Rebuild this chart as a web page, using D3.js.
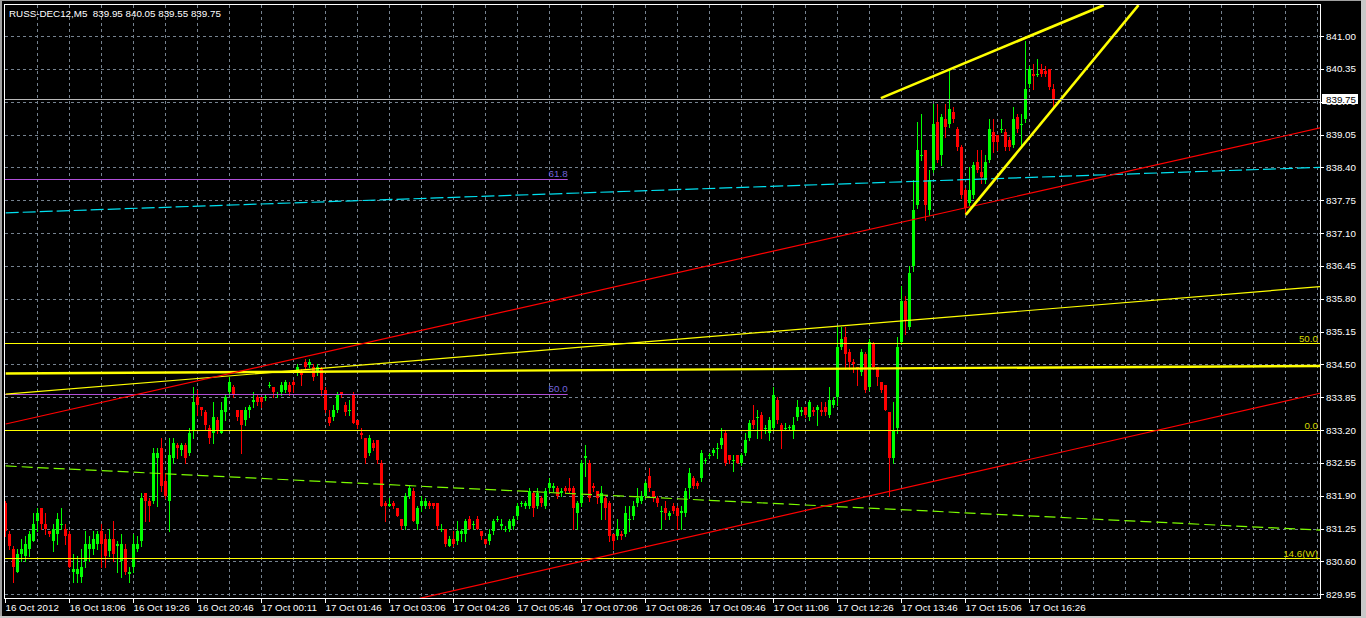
<!DOCTYPE html>
<html>
<head>
<meta charset="utf-8">
<script src="https://cdn.jsdelivr.net/npm/d3@7/dist/d3.min.js"></script>
<style>
  html, body { margin: 0; padding: 0; background: #000; overflow: hidden; }
  svg { display: block; }
  text { font-family: "Liberation Sans", Arial, sans-serif; font-size: 9.8px; }
</style>
</head>
<body>
<div id="chart"></div>
<script>
// M5 candles, [open, high, low, close], oldest first
var candles = [
  [831.75, 831.80, 831.10, 831.20], [831.15, 831.20, 830.85, 830.90], [830.85, 830.90, 830.20, 830.50], [830.40, 830.85, 830.40, 830.75],
  [830.75, 831.05, 830.60, 830.85], [830.70, 831.10, 830.60, 830.95], [830.85, 831.20, 830.70, 831.15], [831.00, 831.55, 831.00, 831.35],
  [831.40, 831.65, 831.20, 831.55], [831.65, 831.65, 831.25, 831.35], [831.35, 831.55, 831.15, 831.25], [831.20, 831.20, 831.10, 831.15],
  [831.00, 831.35, 830.80, 831.25], [831.15, 831.55, 830.95, 831.45], [831.33, 831.65, 831.25, 831.35], [831.25, 831.35, 830.95, 831.10],
  [831.15, 831.20, 830.50, 830.50], [830.40, 830.75, 830.20, 830.45], [830.35, 830.70, 830.20, 830.45], [830.30, 830.85, 830.20, 830.50],
  [830.60, 831.20, 830.50, 830.95], [830.85, 831.10, 830.60, 830.95], [830.85, 831.20, 830.75, 831.05], [830.95, 831.20, 830.85, 831.15],
  [831.20, 831.35, 830.50, 830.95], [831.05, 831.15, 830.50, 830.70], [830.80, 831.25, 830.70, 831.05], [831.05, 831.40, 830.60, 830.75],
  [830.90, 831.00, 830.40, 830.95], [830.60, 831.15, 830.30, 830.95], [830.85, 830.95, 830.35, 830.40], [830.35, 830.50, 830.20, 830.40],
  [830.50, 831.15, 830.40, 830.95], [830.85, 831.10, 830.80, 830.95], [831.00, 831.95, 830.90, 831.85], [831.95, 831.95, 831.40, 831.80],
  [831.80, 831.85, 831.40, 831.70], [831.80, 832.85, 831.75, 832.75], [832.65, 832.85, 831.70, 832.75], [832.85, 833.05, 832.00, 832.10],
  [832.20, 832.35, 831.85, 831.90], [831.80, 833.05, 831.20, 832.70], [832.65, 833.05, 832.55, 832.95], [832.90, 832.95, 832.65, 832.85],
  [832.80, 832.95, 832.70, 832.90], [832.90, 832.95, 832.55, 832.65], [832.75, 833.25, 832.70, 833.15], [833.20, 834.05, 833.05, 833.75],
  [833.85, 834.00, 833.50, 833.70], [833.65, 833.65, 833.50, 833.60], [833.55, 833.60, 833.20, 833.30], [833.25, 833.30, 832.95, 833.05],
  [833.15, 833.75, 832.95, 833.45], [833.40, 833.45, 833.15, 833.20], [833.15, 833.75, 833.15, 833.60], [833.55, 833.90, 833.40, 833.85],
  [833.95, 834.25, 833.90, 834.15], [834.05, 834.10, 833.85, 833.90], [833.60, 833.60, 833.40, 833.45], [833.60, 833.60, 832.75, 833.30],
  [833.40, 833.65, 833.30, 833.60], [833.60, 833.70, 833.45, 833.65], [833.75, 833.95, 833.65, 833.80], [833.85, 833.90, 833.70, 833.75],
  [833.85, 833.85, 833.65, 833.75], [833.83, 833.90, 833.80, 833.85], [834.08, 834.15, 834.05, 834.10], [834.05, 834.05, 833.85, 833.95],
  [833.90, 833.95, 833.85, 833.92], [833.95, 834.15, 833.90, 834.10], [834.00, 834.20, 833.95, 834.15], [834.10, 834.15, 833.90, 833.95],
  [834.15, 834.20, 833.95, 834.10], [834.35, 834.50, 834.30, 834.45], [834.35, 834.40, 834.10, 834.30], [834.55, 834.60, 834.40, 834.45],
  [834.48, 834.60, 834.45, 834.55], [834.45, 834.50, 834.20, 834.25], [834.35, 834.50, 834.30, 834.45], [834.40, 834.45, 833.90, 834.00],
  [834.00, 834.05, 833.55, 833.60], [833.45, 833.60, 833.30, 833.35], [833.45, 833.70, 833.40, 833.60], [833.60, 833.95, 833.55, 833.90],
  [833.95, 833.95, 833.85, 833.90], [833.70, 833.75, 833.50, 833.55], [833.58, 833.80, 833.50, 833.60], [833.90, 833.95, 833.35, 833.35],
  [833.40, 833.40, 833.25, 833.30], [833.15, 833.25, 833.05, 833.10], [833.05, 833.05, 832.55, 832.65], [832.75, 833.10, 832.70, 833.05],
  [832.95, 833.00, 832.80, 832.85], [833.00, 833.00, 832.55, 832.60], [832.55, 832.60, 831.70, 831.70], [831.75, 831.80, 831.40, 831.70],
  [831.70, 831.85, 831.70, 831.73], [831.75, 831.80, 831.65, 831.70], [831.65, 831.65, 831.50, 831.50], [831.45, 831.45, 831.25, 831.30],
  [831.30, 831.95, 831.25, 831.90], [831.90, 832.10, 831.85, 832.05], [832.00, 832.05, 831.40, 831.40], [831.35, 831.70, 831.25, 831.65],
  [831.70, 831.90, 831.60, 831.80], [831.70, 831.85, 831.65, 831.80], [831.75, 831.80, 831.65, 831.70], [831.75, 831.75, 831.65, 831.70],
  [831.75, 831.75, 831.25, 831.30], [831.23, 831.35, 831.20, 831.25], [831.25, 831.25, 830.90, 830.95], [830.90, 831.10, 830.90, 831.05],
  [831.05, 831.20, 830.90, 830.95], [831.00, 831.40, 830.95, 831.20], [831.15, 831.25, 831.00, 831.20], [831.15, 831.45, 831.00, 831.40],
  [831.45, 831.50, 831.25, 831.25], [831.33, 831.40, 831.25, 831.35], [831.45, 831.50, 831.25, 831.25], [831.20, 831.20, 831.05, 831.10],
  [831.05, 831.05, 830.95, 830.95], [831.00, 831.25, 830.95, 831.15], [831.20, 831.45, 831.15, 831.40], [831.43, 831.50, 831.40, 831.45],
  [831.30, 831.45, 831.25, 831.35], [831.23, 831.30, 831.20, 831.25], [831.25, 831.45, 831.20, 831.40], [831.30, 831.50, 831.25, 831.45],
  [831.50, 831.75, 831.45, 831.70], [831.73, 831.80, 831.70, 831.75], [831.70, 831.80, 831.65, 831.75], [831.70, 832.05, 831.65, 832.00],
  [831.95, 832.00, 831.50, 831.65], [831.70, 832.05, 831.65, 831.95], [831.85, 831.90, 831.70, 831.75], [831.70, 832.05, 831.65, 832.00],
  [832.05, 832.25, 832.00, 832.15], [832.05, 832.15, 832.00, 832.10], [832.05, 832.10, 831.85, 831.90], [831.95, 832.05, 831.90, 832.00],
  [832.05, 832.10, 831.95, 832.00], [832.05, 832.25, 831.95, 832.00], [832.05, 832.10, 831.25, 831.65], [831.55, 831.80, 831.25, 831.75],
  [831.75, 832.60, 831.70, 832.55], [832.65, 832.90, 832.30, 832.68], [832.55, 832.60, 831.80, 831.85], [832.10, 832.15, 832.00, 832.05],
  [832.00, 832.00, 831.75, 831.85], [831.75, 832.10, 831.45, 831.95], [831.85, 831.90, 831.45, 831.65], [831.75, 831.80, 831.00, 831.10],
  [831.15, 831.15, 830.85, 831.00], [831.10, 831.45, 831.05, 831.25], [831.15, 831.20, 831.05, 831.10], [831.15, 831.70, 831.10, 831.55],
  [831.43, 831.70, 831.20, 831.45], [831.50, 831.80, 831.45, 831.70], [831.75, 832.05, 831.70, 831.85], [831.80, 832.00, 831.75, 831.90],
  [831.90, 832.20, 831.85, 832.15], [832.30, 832.45, 832.00, 832.05], [832.00, 832.00, 831.80, 831.85], [831.85, 831.90, 831.70, 831.75],
  [831.58, 831.70, 831.25, 831.60], [831.65, 831.80, 831.45, 831.55], [831.50, 831.60, 831.45, 831.55], [831.70, 831.75, 831.55, 831.60],
  [831.65, 831.70, 831.25, 831.50], [831.55, 831.70, 831.25, 831.60], [831.55, 832.05, 831.50, 832.00], [832.05, 832.45, 831.85, 832.35],
  [832.25, 832.30, 832.05, 832.10], [832.15, 832.20, 832.05, 832.10], [832.25, 832.80, 832.20, 832.75], [832.58, 832.65, 832.55, 832.60],
  [832.68, 832.75, 832.65, 832.70], [832.75, 832.85, 832.70, 832.80], [832.83, 832.95, 832.65, 832.85], [832.90, 833.25, 832.85, 833.05],
  [833.15, 833.20, 832.50, 832.55], [832.70, 832.70, 832.55, 832.60], [832.58, 832.70, 832.40, 832.60], [832.70, 832.70, 832.55, 832.55],
  [832.55, 832.75, 832.50, 832.70], [832.75, 833.15, 832.70, 833.00], [833.05, 833.40, 833.00, 833.35], [833.40, 833.70, 833.25, 833.30],
  [833.43, 833.60, 833.05, 833.45], [833.50, 833.55, 833.05, 833.20], [833.23, 833.30, 833.15, 833.25], [833.15, 833.45, 833.00, 833.40],
  [833.25, 834.05, 833.20, 833.90], [833.80, 833.85, 833.35, 833.40], [833.30, 833.35, 832.85, 833.20], [833.23, 833.35, 833.20, 833.25],
  [833.25, 833.30, 833.20, 833.27], [833.20, 833.45, 833.05, 833.30], [833.45, 833.80, 833.40, 833.65], [833.55, 833.65, 833.50, 833.60],
  [833.65, 833.65, 833.45, 833.50], [833.45, 833.80, 833.40, 833.75], [833.60, 833.65, 833.50, 833.55], [833.60, 833.70, 833.30, 833.65],
  [833.60, 833.75, 833.50, 833.55], [833.65, 833.75, 833.50, 833.55], [833.50, 834.05, 833.45, 833.80], [833.70, 833.85, 833.65, 833.80],
  [833.85, 835.25, 833.70, 834.85], [834.85, 835.25, 834.80, 835.00], [835.05, 835.25, 834.40, 834.70], [834.75, 834.80, 834.40, 834.55],
  [834.55, 834.60, 834.35, 834.50], [834.45, 834.45, 834.10, 834.40], [834.35, 834.80, 834.30, 834.75], [834.70, 834.75, 833.95, 834.00],
  [834.05, 835.00, 834.00, 834.95], [834.90, 834.95, 834.40, 834.45], [834.45, 834.45, 834.10, 834.25], [834.15, 834.15, 833.95, 834.00],
  [834.10, 834.10, 833.60, 833.60], [833.55, 833.55, 831.90, 832.65], [832.65, 833.75, 832.55, 833.20], [833.25, 835.05, 833.15, 834.85],
  [834.95, 836.05, 834.90, 835.75], [835.75, 835.85, 835.10, 835.35], [835.25, 836.45, 835.20, 836.30], [836.45, 838.15, 836.35, 837.55],
  [837.65, 839.30, 837.60, 838.75], [838.63, 839.45, 838.55, 838.65], [838.75, 838.75, 837.35, 837.65], [837.55, 838.35, 837.45, 838.15],
  [838.35, 839.65, 838.30, 839.25], [839.30, 839.65, 838.50, 838.55], [838.65, 839.45, 838.45, 839.40], [839.35, 839.65, 839.00, 839.20],
  [839.25, 840.35, 839.20, 839.55], [839.50, 839.60, 839.30, 839.35], [839.15, 839.20, 838.75, 838.80], [838.80, 838.85, 837.80, 837.85],
  [837.95, 838.00, 837.50, 837.60], [837.70, 838.40, 837.65, 837.95], [837.85, 838.50, 837.80, 838.45], [838.50, 838.75, 838.30, 838.35],
  [838.30, 838.75, 838.10, 838.20], [838.15, 838.65, 838.10, 838.50], [838.55, 839.35, 838.50, 839.15], [839.10, 839.35, 838.70, 838.90],
  [839.05, 839.05, 838.75, 838.90], [839.13, 839.35, 839.10, 839.15], [839.10, 839.15, 838.75, 838.80], [838.95, 839.00, 838.75, 838.80],
  [838.85, 839.60, 838.80, 839.35], [839.40, 839.45, 839.10, 839.15], [839.23, 839.45, 838.80, 839.25], [839.35, 840.90, 839.30, 839.95],
  [840.05, 840.40, 840.00, 840.35], [840.25, 840.45, 839.95, 840.20], [840.23, 840.55, 840.20, 840.25], [840.35, 840.45, 840.20, 840.25],
  [840.30, 840.40, 840.20, 840.25], [840.35, 840.35, 839.95, 840.00], [839.95, 840.05, 839.55, 839.75]
];

var priceTicks = [829.95, 830.60, 831.25, 831.90, 832.55, 833.20, 833.85, 834.50, 835.15,
  835.80, 836.45, 837.10, 837.75, 838.40, 839.05, 839.70, 840.35, 841.00];

// one label every 16 bars
var timeLabels = ["16 Oct 2012", "16 Oct 18:06", "16 Oct 19:26", "16 Oct 20:46", "17 Oct 00:11",
  "17 Oct 01:46", "17 Oct 03:06", "17 Oct 04:26", "17 Oct 05:46", "17 Oct 07:06", "17 Oct 08:26",
  "17 Oct 09:46", "17 Oct 11:06", "17 Oct 12:26", "17 Oct 13:46", "17 Oct 15:06", "17 Oct 16:26"];

var symbolInfo = "RUSS-DEC12,M5  839.95 840.05 839.55 839.75";
var bid = 839.75;

// trend lines: [bar1, price1, bar2, price2]
var redTrends = [[0, 833.32, 328.6, 839.18], [103.5, 829.87, 328.6, 833.93]];
var yellowTrend = [0, 833.91, 328.6, 836.04];
var yellowLevel = [0, 834.32, 328.6, 834.47];
var wedgeLines = [[218.8, 839.77, 274.5, 841.61], [240, 837.46, 283.2, 841.61]];
var cyanMA = [0, 837.50, 328.6, 838.40];
var greenMA = [0, 832.49, 328.6, 831.22];

// fibo levels
var fiboLevels = [
  { price: 834.92, label: "50.0" },
  { price: 833.20, label: "0.0" },
  { price: 830.67, label: "14.6(W)" }
];
var purpleLevels = [
  { price: 838.16, label: "61.8" },
  { price: 833.91, label: "50.0" }
];
var purpleEnd = 140.5;

var W = 1366, H = 618;
var plotLeft = 5, plotRight = 1320, plotTop = 5, plotBottom = 598;

var svg = d3.select("#chart")
  .append("svg")
  .attr("width", W)
  .attr("height", H);

svg.append("rect")
  .attr("width", W)
  .attr("height", H)
  .attr("fill", "#000");

var xScale = d3.scaleLinear()
  .domain([0, 328])
  .range([5.7, 1317.7]);

var yScale = d3.scaleLinear()
  .domain([829.95, 841.00])
  .range([594.3, 36]);

svg.append("clipPath")
  .attr("id", "plot")
  .append("rect")
  .attr("x", plotLeft)
  .attr("y", plotTop)
  .attr("width", plotRight - plotLeft)
  .attr("height", plotBottom - plotTop);

// grid
var grid = svg.append("g")
  .attr("stroke", "#75828f")
  .attr("stroke-dasharray", "3,3")
  .attr("shape-rendering", "crispEdges");

grid.selectAll("line.h")
  .data(priceTicks)
  .enter()
  .append("line")
  .attr("class", "h")
  .attr("x1", plotLeft)
  .attr("x2", plotRight)
  .attr("y1", function(d) { return Math.round(yScale(d)) + 0.5; })
  .attr("y2", function(d) { return Math.round(yScale(d)) + 0.5; });

grid.selectAll("line.v")
  .data(d3.range(8, 329, 8))
  .enter()
  .append("line")
  .attr("class", "v")
  .attr("y1", plotTop)
  .attr("y2", plotBottom)
  .attr("x1", function(d) { return Math.floor(xScale(d)) + 0.5; })
  .attr("x2", function(d) { return Math.floor(xScale(d)) + 0.5; });

var plot = svg.append("g")
  .attr("clip-path", "url(#plot)");

// candles
var bars = plot.selectAll("g.bar")
  .data(candles)
  .enter()
  .append("g")
  .attr("class", "bar")
  .attr("fill", function(d) { return d[3] >= d[0] ? "#00ff00" : "#ff0000"; })
  .attr("stroke", function(d) { return d[3] >= d[0] ? "#00ff00" : "#ff0000"; })
  .attr("shape-rendering", "crispEdges");

bars.append("line")
  .attr("x1", function(d, i) { return Math.floor(xScale(i)) + 0.5; })
  .attr("x2", function(d, i) { return Math.floor(xScale(i)) + 0.5; })
  .attr("y1", function(d) { return Math.round(yScale(d[1])); })
  .attr("y2", function(d) { return Math.round(yScale(d[2])) + 1; });

bars.append("rect")
  .attr("stroke", "none")
  .attr("x", function(d, i) { return Math.floor(xScale(i)) - 1; })
  .attr("width", 3)
  .attr("y", function(d) { return Math.round(yScale(Math.max(d[0], d[3]))); })
  .attr("height", function(d) {
    return Math.max(1, Math.round(yScale(Math.min(d[0], d[3]))) - Math.round(yScale(Math.max(d[0], d[3]))));
  });

function seg(g, d) {
  return g.append("line")
    .attr("x1", xScale(d[0]))
    .attr("y1", yScale(d[1]))
    .attr("x2", xScale(d[2]))
    .attr("y2", yScale(d[3]));
}

// moving averages (dashed)
seg(plot, cyanMA)
  .attr("stroke", "#00e0f0")
  .attr("stroke-width", 1.2)
  .attr("stroke-dasharray", "13,4");

seg(plot, greenMA)
  .attr("stroke", "#7cfc00")
  .attr("stroke-width", 1.2)
  .attr("stroke-dasharray", "11,5");

// purple fibo levels
plot.selectAll("line.purple")
  .data(purpleLevels)
  .enter()
  .append("line")
  .attr("class", "purple")
  .attr("x1", plotLeft)
  .attr("x2", xScale(purpleEnd))
  .attr("y1", function(d) { return Math.round(yScale(d.price)) + 0.5; })
  .attr("y2", function(d) { return Math.round(yScale(d.price)) + 0.5; })
  .attr("stroke", "#b050d8")
  .attr("stroke-width", 1.2);

plot.selectAll("text.purple")
  .data(purpleLevels)
  .enter()
  .append("text")
  .attr("class", "purple")
  .attr("x", xScale(purpleEnd))
  .attr("y", function(d) { return Math.round(yScale(d.price)) - 2; })
  .attr("text-anchor", "end")
  .attr("fill", "#7264dc")
  .text(function(d) { return d.label; });

// yellow horizontal fibo levels
plot.selectAll("line.fibo")
  .data(fiboLevels)
  .enter()
  .append("line")
  .attr("class", "fibo")
  .attr("x1", plotLeft)
  .attr("x2", plotRight)
  .attr("y1", function(d) { return Math.round(yScale(d.price)) + 0.5; })
  .attr("y2", function(d) { return Math.round(yScale(d.price)) + 0.5; })
  .attr("stroke", "#ffff00")
  .attr("stroke-width", 1.2);

plot.selectAll("text.fibo")
  .data(fiboLevels)
  .enter()
  .append("text")
  .attr("class", "fibo")
  .attr("x", plotRight - 2)
  .attr("y", function(d) { return Math.round(yScale(d.price)) - 1.5; })
  .attr("text-anchor", "end")
  .attr("fill", "#d8d800")
  .text(function(d) { return d.label; });

seg(plot, yellowLevel)
  .attr("stroke", "#ffff00")
  .attr("stroke-width", 2.4);

seg(plot, yellowTrend)
  .attr("stroke", "#ffff00")
  .attr("stroke-width", 1.2);

redTrends.forEach(function(t) {
  seg(plot, t)
    .attr("stroke", "#ff0000")
    .attr("stroke-width", 1.2);
});

wedgeLines.forEach(function(t) {
  seg(plot, t)
    .attr("stroke", "#ffff00")
    .attr("stroke-width", 2.6);
});

// bid line
plot.append("line")
  .attr("x1", plotLeft)
  .attr("x2", plotRight)
  .attr("y1", Math.round(yScale(bid)) + 0.5)
  .attr("y2", Math.round(yScale(bid)) + 0.5)
  .attr("stroke", "#b8b8b8")
  .attr("shape-rendering", "crispEdges");

// frame
svg.append("rect")
  .attr("x", 4.5)
  .attr("y", 4.5)
  .attr("width", plotRight - 4.5)
  .attr("height", plotBottom - 4.5)
  .attr("fill", "none")
  .attr("stroke", "#ffffff")
  .attr("shape-rendering", "crispEdges");

// price axis
var pAxis = svg.append("g");

pAxis.selectAll("line")
  .data(priceTicks)
  .enter()
  .append("line")
  .attr("x1", plotRight)
  .attr("x2", plotRight + 4)
  .attr("y1", function(d) { return Math.round(yScale(d)) + 0.5; })
  .attr("y2", function(d) { return Math.round(yScale(d)) + 0.5; })
  .attr("stroke", "#fff");

pAxis.selectAll("text")
  .data(priceTicks)
  .enter()
  .append("text")
  .attr("x", 1326)
  .attr("y", function(d) { return yScale(d); })
  .attr("dy", "0.36em")
  .attr("fill", "#fff")
  .text(function(d) { return d.toFixed(2); });

svg.append("rect")
  .attr("x", 1322)
  .attr("y", Math.round(yScale(bid)) - 5)
  .attr("width", 36)
  .attr("height", 10)
  .attr("fill", "#fff");

svg.append("text")
  .attr("x", 1326)
  .attr("y", yScale(bid))
  .attr("dy", "0.36em")
  .attr("fill", "#000")
  .text(bid.toFixed(2));

// time axis
var tAxis = svg.selectAll("g.time")
  .data(timeLabels)
  .enter()
  .append("g")
  .attr("class", "time")
  .attr("transform", function(d, i) { return "translate(" + (Math.floor(xScale(i * 16)) + 0.5) + ",0)"; });

tAxis.append("line")
  .attr("y1", plotBottom)
  .attr("y2", plotBottom + 5)
  .attr("stroke", "#fff");

tAxis.append("text")
  .attr("x", 0)
  .attr("y", 611)
  .attr("fill", "#fff")
  .text(function(d) { return d; });

svg.append("text")
  .attr("x", 9)
  .attr("y", 17)
  .attr("fill", "#fff")
  .style("white-space", "pre")
  .text(symbolInfo);

// window edges
svg.append("rect").attr("x", 0).attr("y", 0).attr("width", 2).attr("height", H).attr("fill", "#a0a0a0");
svg.append("rect").attr("x", 0).attr("y", 0).attr("width", W).attr("height", 1).attr("fill", "#a0a0a0");
svg.append("rect").attr("x", 1361).attr("y", 0).attr("width", 5).attr("height", H).attr("fill", "#c8c8c8");
svg.append("rect").attr("x", 0).attr("y", 616).attr("width", W).attr("height", 2).attr("fill", "#c8c8c8");
</script>
</body>
</html>
